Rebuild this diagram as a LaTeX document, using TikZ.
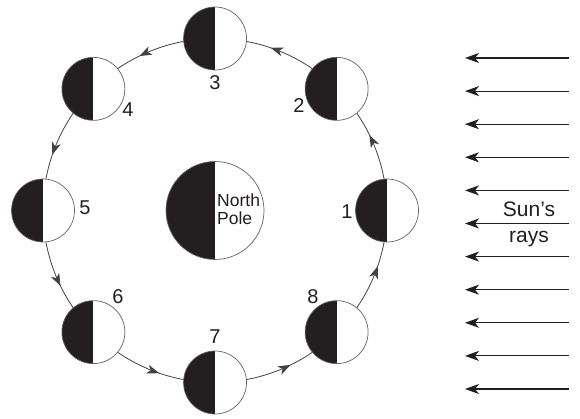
\documentclass[tikz,border=0pt]{standalone}
\usepackage{fontspec}
\setmainfont{Liberation Sans}
\usetikzlibrary{arrows.meta,decorations.markings}
\definecolor{ink}{HTML}{231F20}
\begin{document}
\begin{tikzpicture}[x=1pt,y=1pt,
  body/.style={circle, draw=ink!70, line width=0.7pt, fill=white, inner sep=0pt,
    minimum size=#1,
    path picture={\fill[ink] (path picture bounding box.south west)
      rectangle (path picture bounding box.north);}},
  orbit/.style={draw=ink!85, line width=0.8pt, postaction={decorate},
    decoration={markings, mark=at position 0.58 with
      {\arrow{Stealth[length=12.5pt,width=9pt,inset=3.5pt]}}}},
  ray/.style={draw=ink, line width=1.1pt,
    -{Stealth[length=14pt,width=10pt,inset=4pt]}},
  num/.style={font=\fontsize{20}{20}\selectfont, text=ink, inner sep=0pt},
  caption/.style={font=\fontsize{21}{21}\selectfont, text=ink, inner sep=0pt},
]
\useasboundingbox (0,0) rectangle (580,419);

% centre of the orbit and the eight moon positions (counterclockwise from the right)
\coordinate (O) at (215,208.5);
\foreach \k in {1,...,8}
  \path (O) ++({(\k-1)*45}:172) coordinate (c\k);

% orbit, one arc per step, each with a direction arrow
\foreach \a/\b in {1/2,2/3,3/4,4/5,5/6,6/7,7/8,8/1}
  \draw[orbit] (c\a) to[bend right=22.5, looseness=0.885] (c\b);

% moons: dark left half, lit right half
\foreach \k in {1,...,8}
  \node[body=63] (m\k) at (c\k) {};

% Earth seen from above the North Pole
\node[body=98] (earth) at (O) {};
\node[anchor=west, align=left, inner sep=0pt, text=ink,
      font=\fontsize{17.5}{18}\selectfont] (np) at (217,209.3) {North\\Pole};

% phase numbers
\node[num] (n1) at (347,207) {1};
\node[num] (n2) at (299,313) {2};
\node[num] (n3) at (215,336) {3};
\node[num] (n4) at (128,309) {4};
\node[num] (n5) at (85,211) {5};
\node[num] (n6) at (118,122) {6};
\node[num] (n7) at (215,82) {7};
\node[num] (n8) at (313,122) {8};

% sunlight arriving from the right
\foreach \k in {0,...,10} {
  \coordinate (rs\k) at (569,{361-33.1*\k});
  \coordinate (re\k) at (465,{361-33.1*\k});
  \draw[ray] (rs\k) -- (re\k);
}
\node[caption, anchor=base] (sun) at (529,202) {Sun’s};
\node[caption, anchor=base] (rays) at (529,176) {rays};
\end{tikzpicture}
\end{document}
